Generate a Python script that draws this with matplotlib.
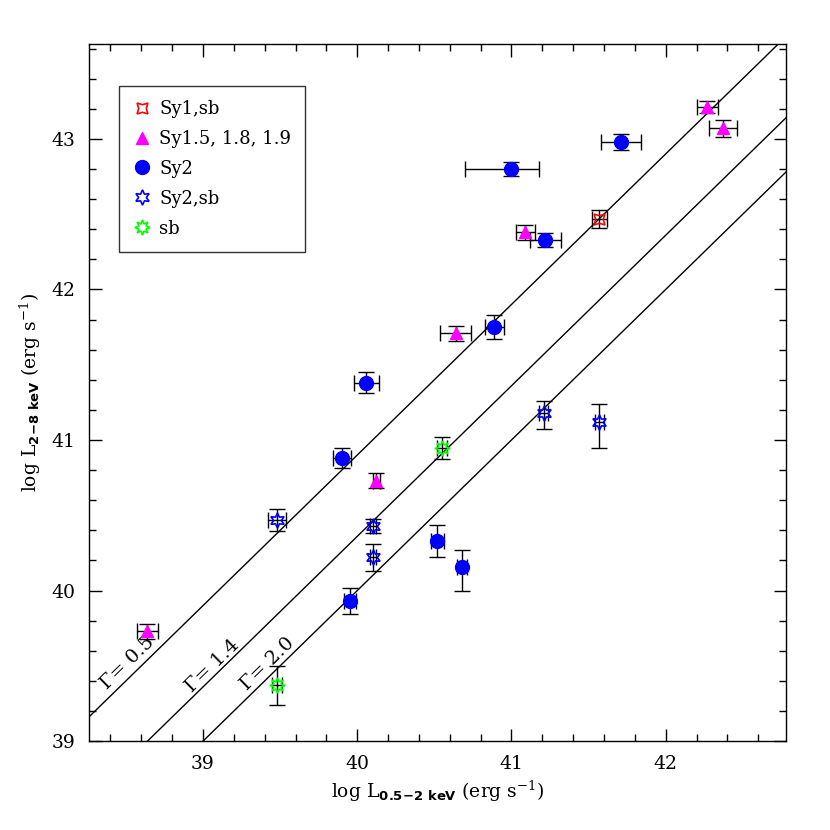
"""
Hard (2-8 keV) vs soft (0.5-2 keV) X-ray luminosity, with constant
photon-index (Gamma) lines.
"""

import matplotlib

matplotlib.use("Agg")
import matplotlib.pyplot as plt
import numpy as np

plt.rcParams["font.family"] = ["DejaVu Serif"]
plt.rcParams["mathtext.default"] = "regular"

# --- data (log luminosities, erg/s) ---------------------------------------
sy1sb_x = [41.57]
sy1sb_y = [42.47]
sy1sb_xerr = [0.05]
sy1sb_yerr = [0.06]

sy15_x = [38.64, 40.64, 40.125, 41.09, 42.27, 42.37]
sy15_y = [39.73, 41.71, 40.73, 42.38, 43.21, 43.07]
sy15_xerr = [0.07, 0.10, 0.02, 0.06, 0.07, 0.09]
sy15_yerr = [0.05, 0.05, 0.05, 0.05, 0.04, 0.055]

sy2_x = [41.00, 41.71, 41.22, 40.89, 40.06, 39.90, 39.955, 40.52, 40.68]
sy2_y = [42.80, 42.98, 42.33, 41.75, 41.38, 40.88, 39.93, 40.33, 40.16]
sy2_xerr_lo = [0.30, 0.13, 0.10, 0.06, 0.08, 0.06, 0.04, 0.04, 0.03]
sy2_xerr_hi = [0.18, 0.13, 0.10, 0.06, 0.08, 0.06, 0.04, 0.04, 0.03]
sy2_yerr_lo = [0.045, 0.055, 0.047, 0.08, 0.07, 0.065, 0.085, 0.107, 0.16]
sy2_yerr_hi = [0.045, 0.055, 0.047, 0.08, 0.07, 0.065, 0.085, 0.107, 0.11]

sy2sb_x = [39.48, 40.10, 40.10, 41.21, 41.57]
sy2sb_y = [40.47, 40.43, 40.22, 41.18, 41.12]
sy2sb_xerr = [0.06, 0.02, 0.02, 0.03, 0.03]
sy2sb_yerr_lo = [0.075, 0.047, 0.09, 0.11, 0.17]
sy2sb_yerr_hi = [0.075, 0.047, 0.09, 0.08, 0.12]

sb_x = [40.55, 39.48]
sb_y = [40.95, 39.37]
sb_xerr = [0.03, 0.03]
sb_yerr = [0.073, 0.13]

# constant-Gamma lines: log L_hard = log L_soft + offset
gamma_labels = ["0.5", "1.4", "2.0"]
gamma_offsets = [0.90, 0.36, 0.0]
gamma_label_x = [38.51, 39.06, 39.42]
gamma_label_y = [39.52, 39.50, 39.51]

XLIM = (38.26, 42.78)
YLIM = (39.0, 43.63)

fig = plt.figure(figsize=(8.3, 8.3), dpi=100)
ax = fig.add_axes([0.107, 0.107, 0.84, 0.84])

xs = np.array(XLIM)
for off in gamma_offsets:
    ax.plot(xs, xs + off, color="black", lw=1.0, zorder=1)
for lab, tx, ty in zip(gamma_labels, gamma_label_x, gamma_label_y):
    ax.text(tx, ty, "Γ= " + lab, rotation=44.3, rotation_mode="anchor",
            ha="center", va="center", fontsize=14)

ebar = dict(fmt="none", ecolor="black", elinewidth=1.0, capsize=6,
            capthick=1.0, zorder=2)

ax.errorbar(sy15_x, sy15_y, xerr=sy15_xerr, yerr=sy15_yerr, **ebar)
ax.errorbar(sy2_x, sy2_y, xerr=[sy2_xerr_lo, sy2_xerr_hi],
            yerr=[sy2_yerr_lo, sy2_yerr_hi], **ebar)
ax.errorbar(sy2sb_x, sy2sb_y, xerr=sy2sb_xerr,
            yerr=[sy2sb_yerr_lo, sy2sb_yerr_hi], **ebar)
ax.errorbar(sb_x, sb_y, xerr=sb_xerr, yerr=sb_yerr, **ebar)
ax.errorbar(sy1sb_x, sy1sb_y, xerr=sy1sb_xerr, yerr=sy1sb_yerr, **ebar)

ax.plot(sy1sb_x, sy1sb_y, ls="none", marker=(4, 1, 45), ms=11,
        mfc="none", mec="red", mew=1.2, zorder=3, label="Sy1,sb")
ax.plot(sy15_x, sy15_y, ls="none", marker="^", ms=9, color="magenta",
        zorder=3, label="Sy1.5, 1.8, 1.9")
ax.plot(sy2_x, sy2_y, ls="none", marker="o", ms=10, color="blue",
        zorder=3, label="Sy2")
ax.plot(sy2sb_x, sy2sb_y, ls="none", marker=(6, 1, 0), ms=11,
        mfc="none", mec="blue", mew=1.2, zorder=3, label="Sy2,sb")
ax.plot(sb_x, sb_y, ls="none", marker=(8, 1, 0), ms=11,
        mfc="none", mec="#00ff00", mew=1.2, zorder=3, label="sb")

leg = ax.legend(loc="upper left", bbox_to_anchor=(0.043, 0.94),
                fontsize=13, frameon=True, fancybox=False, edgecolor="black",
                handlelength=1.0, handletextpad=0.45, labelspacing=0.66,
                borderpad=0.78, borderaxespad=0)
leg.get_frame().set_linewidth(1.0)

ax.set_xlim(*XLIM)
ax.set_ylim(*YLIM)
ax.set_xticks([39, 40, 41, 42])
ax.set_yticks([39, 40, 41, 42, 43])
ax.set_xticks(np.arange(38.4, 42.8, 0.2), minor=True)
ax.set_yticks(np.arange(39.2, 43.62, 0.2), minor=True)
ax.tick_params(which="both", direction="in", top=True, right=True,
               labelsize=13.5, width=1.0)
ax.tick_params(which="major", length=9, pad=10)
ax.tick_params(which="minor", length=5)
for sp in ax.spines.values():
    sp.set_linewidth(1.0)

ax.set_xlabel(r"log L$_{\mathbf{0.5\!-\!2\ keV}}$ (erg s$^{-1}$)", fontsize=13.5)
ax.set_ylabel(r"log L$_{\mathbf{2\!-\!8\ keV}}$ (erg s$^{-1}$)", fontsize=13.5,
              labelpad=6)

fig.savefig("out.png", dpi=100)
